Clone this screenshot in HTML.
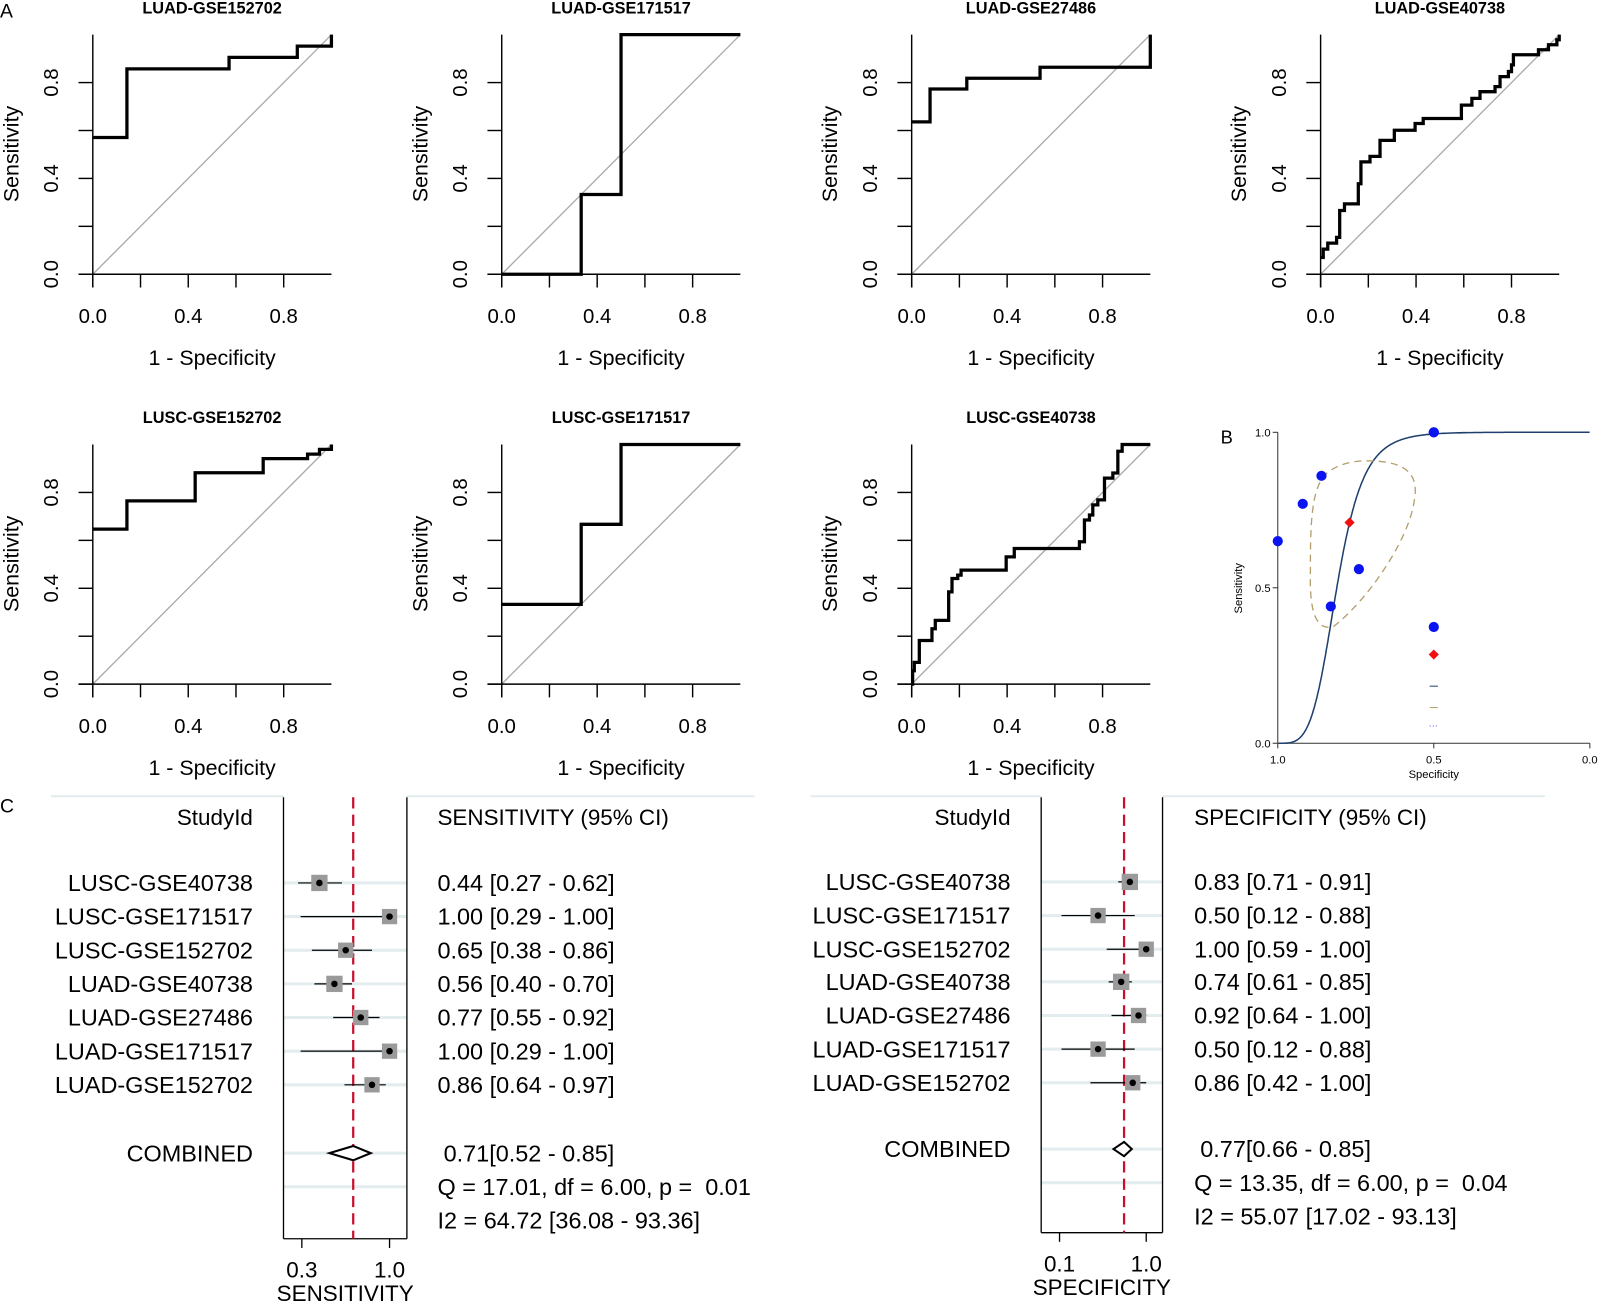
<!DOCTYPE html>
<html><head><meta charset="utf-8"><style>
html,body{margin:0;padding:0;background:#fff;}
svg{display:block;font-family:"Liberation Sans",Arial,sans-serif;}
text{white-space:pre;}
</style></head><body>
<svg id="fig" width="1599" height="1303" viewBox="0 0 1568 1278" preserveAspectRatio="none" xmlns="http://www.w3.org/2000/svg">
<rect width="1568" height="1278" fill="#fff"/>
<text x="0" y="17" font-size="19">A</text>
<text x="1197" y="435" font-size="18">B</text>
<text x="0" y="797" font-size="19">C</text>
</svg>
<script>
// ---------- ROC data (fpr = 1 - specificity, tpr = sensitivity) ----------
const rocTitles = ["LUAD-GSE152702","LUAD-GSE171517","LUAD-GSE27486","LUAD-GSE40738","LUSC-GSE152702","LUSC-GSE171517","LUSC-GSE40738"];
const luad152702Fpr = [0,0.143,0.571,0.857,1];
const luad152702Tpr = [0.571,0.857,0.905,0.952,1];
const luad171517Fpr = [0.333,0.5,1];
const luad171517Tpr = [0.333,1,1];
const luad27486Fpr = [0,0.077,0.231,0.538,1];
const luad27486Tpr = [0.636,0.773,0.818,0.864,1];
const luad40738Fpr = [0,0.011,0.03,0.067,0.08,0.08,0.10,0.158,0.158,0.169,0.207,0.249,0.249,0.309,0.309,0.375,0.396,0.43,0.564,0.59,0.634,0.668,0.731,0.752,0.787,0.80,0.808,0.878,0.913,0.955,0.99,1];
const luad40738Tpr = [0.07,0.105,0.13,0.154,0.175,0.266,0.294,0.294,0.378,0.469,0.492,0.492,0.559,0.559,0.601,0.601,0.629,0.65,0.65,0.706,0.734,0.762,0.783,0.825,0.846,0.874,0.916,0.916,0.937,0.958,0.979,1];
const lusc152702Fpr = [0,0.143,0.429,0.714,0.9,0.95,1];
const lusc152702Tpr = [0.647,0.765,0.882,0.941,0.96,0.98,1];
const lusc171517Fpr = [0,0.333,0.5,1];
const lusc171517Tpr = [0.333,0.667,1,1];
const lusc40738Fpr = [0.004,0.011,0.032,0.085,0.099,0.155,0.169,0.193,0.207,0.396,0.43,0.69,0.703,0.724,0.724,0.745,0.759,0.78,0.808,0.843,0.864,0.882,1];
const lusc40738Tpr = [0.056,0.091,0.182,0.231,0.266,0.385,0.441,0.455,0.476,0.531,0.566,0.566,0.594,0.622,0.685,0.706,0.748,0.769,0.86,0.881,0.972,1.0,1.0];
const rocAxisTicks = [0,0.2,0.4,0.6,0.8];
const rocTickLabels = ["0.0","0.4","0.8"];

// ---------- SROC data ----------
const srocSens = [0.44,1.0,0.65,0.56,0.77,1.0,0.86];
const srocSpec = [0.83,0.5,1.0,0.74,0.92,0.5,0.86];
const summarySens = [0.71];
const summarySpec = [0.77];

// ---------- Forest data ----------
const studies = ["LUSC-GSE40738","LUSC-GSE171517","LUSC-GSE152702","LUAD-GSE40738","LUAD-GSE27486","LUAD-GSE171517","LUAD-GSE152702"];
const sensVal = [0.44,1.00,0.65,0.56,0.77,1.00,0.86];
const sensLo  = [0.27,0.29,0.38,0.40,0.55,0.29,0.64];
const sensHi  = [0.62,1.00,0.86,0.70,0.92,1.00,0.97];
const specVal = [0.83,0.50,1.00,0.74,0.92,0.50,0.86];
const specLo  = [0.71,0.12,0.59,0.61,0.64,0.12,0.42];
const specHi  = [0.91,0.88,1.00,0.85,1.00,0.88,1.00];
const sensBox = [16,15,15,16,15,15,15];
const specBox = [16,15,15,16,15,15,15];
const sensCombined = [0.71,0.52,0.85];
const specCombined = [0.77,0.66,0.85];
const sensStats = ["Q = 17.01, df = 6.00, p =  0.01","I2 = 64.72 [36.08 - 93.36]"];
const specStats = ["Q = 13.35, df = 6.00, p =  0.04","I2 = 55.07 [17.02 - 93.13]"];

const NS="http://www.w3.org/2000/svg";
const svg=document.getElementById('fig');
function el(tag,attrs,parent,txt){const e=document.createElementNS(NS,tag);for(const k in attrs)e.setAttribute(k,attrs[k]);if(txt!==undefined)e.textContent=txt;(parent||svg).appendChild(e);return e;}

// ---------- ROC panels ----------
const rocFprs=[luad152702Fpr,luad171517Fpr,luad27486Fpr,luad40738Fpr,lusc152702Fpr,lusc171517Fpr,lusc40738Fpr];
const rocTprs=[luad152702Tpr,luad171517Tpr,luad27486Tpr,luad40738Tpr,lusc152702Tpr,lusc171517Tpr,lusc40738Tpr];
const colX=[91,492,894,1295], rowY=[269,671], PW=234, PH=235;
rocTitles.forEach((title,i)=>{
  const x0=colX[i%4], y0=rowY[Math.floor(i/4)];
  const sx=v=>x0+v*PW, sy=v=>y0-v*PH;
  const g=el('g',{});
  
  
  const t=el('text',{x:x0+117,y:y0-256,'font-size':16,'font-weight':'bold','text-anchor':'middle'},g,title);
   
  el('line',{x1:sx(0),y1:sy(0),x2:sx(1),y2:sy(1),stroke:'#aaa','stroke-width':1.3},g);
  el('line',{x1:x0-14,y1:y0,x2:sx(1),y2:y0,stroke:'#000','stroke-width':1.4},g);
  el('line',{x1:x0,y1:y0+13,x2:x0,y2:sy(1),stroke:'#000','stroke-width':1.4},g);
  rocAxisTicks.forEach(v=>{
    el('line',{x1:sx(v),y1:y0,x2:sx(v),y2:y0+13,stroke:'#000','stroke-width':1.4},g);
    el('line',{x1:x0,y1:sy(v),x2:x0-14,y2:sy(v),stroke:'#000','stroke-width':1.4},g);
  });
  rocTickLabels.forEach(l=>{
    const v=parseFloat(l);
    const a=el('text',{x:sx(v),y:y0+48,'font-size':20,'text-anchor':'middle'},g,l);
     
    const b=el('text',{x:0,y:0,'font-size':20,'text-anchor':'middle',transform:`translate(${x0-34},${sy(v)}) rotate(-90)`},g,l);
     
  });
  const xl=el('text',{x:x0+117,y:y0+89,'font-size':21,'text-anchor':'middle'},g,'1 - Specificity');
   
  const yl=el('text',{x:0,y:0,'font-size':21,'text-anchor':'middle',transform:`translate(${x0-73},${y0-118}) rotate(-90)`},g,'Sensitivity');
   
  const fp=rocFprs[i], tp=rocTprs[i];
  let d, start;
  if(fp[0]===0){ d=`M${sx(0)},${sy(tp[0])}`; start=1; }
  else { d=`M${sx(0)},${sy(0)}`; start=0; }
  for(let k=start;k<fp.length;k++){ d+=` L${sx(fp[k])},${sy(k?tp[k-1]:0)} L${sx(fp[k])},${sy(tp[k])}`; }
  const p=el('path',{d:d,fill:'none',stroke:'#000','stroke-width':3.2,'stroke-linejoin':'miter'},g);
   
});

// ---------- SROC ----------
(function(){
  const X0=1253, X1=1559, Y0=729, Y1=424;
  const bx=spec=>X0+(1-spec)*(X1-X0), by=s=>Y0-s*(Y0-Y1);
  const g=el('g',{});
   
  el('line',{x1:X0,y1:Y1,x2:X0,y2:Y0,stroke:'#333','stroke-width':1},g);
  el('line',{x1:X0,y1:Y0,x2:X1,y2:Y0,stroke:'#333','stroke-width':1},g);
  [[0,'0.0'],[0.5,'0.5'],[1,'1.0']].forEach(([v,l])=>{
    el('line',{x1:X0,y1:by(v),x2:X0-5,y2:by(v),stroke:'#333'},g);
    el('line',{x1:bx(v),y1:Y0,x2:bx(v),y2:Y0+5,stroke:'#333'},g);
    el('text',{x:X0-7,y:by(v)+4,'font-size':11,'text-anchor':'end'},g,l);
    el('text',{x:bx(v),y:Y0+20,'font-size':11,'text-anchor':'middle'},g,l);
  });
  const xt=el('text',{x:1406,y:763,'font-size':11,'text-anchor':'middle'},g,'Specificity');
   
  const yt=el('text',{x:0,y:0,'font-size':11,'text-anchor':'middle',transform:'translate(1218,577) rotate(-90)'},g,'Sensitivity');
   
  const A=5.24, B=3.6;
  let d='';
  for(let k=1;k<=400;k++){const f=k/400*0.999+0.0005;const lf=Math.log(f/(1-f));const s=1/(1+Math.exp(-(A+B*lf)));d+=(k===1?'M':' L')+bx(1-f).toFixed(1)+','+by(s).toFixed(1);}
  const c=el('path',{d:d,fill:'none',stroke:'#1f3f6e','stroke-width':1.5},g);
   
  const e=el('path',{d:'M1340,452 C1375,452 1392,462 1387,490 C1382,530 1340,590 1307,615 C1290,618 1284,600 1285,560 C1285,520 1285,480 1300,465 C1310,456 1325,452 1340,452 Z',fill:'none',stroke:'#b39f6a','stroke-width':1.3,'stroke-dasharray':'7,5'},g);
   
  srocSens.forEach((s,i)=>{
    const p=el('circle',{cx:bx(srocSpec[i]),cy:by(s),r:5,fill:'#0a14f0'},g);
     
  });
  const sx=bx(summarySpec[0]), sy=by(summarySens[0]);
  const dm=el('path',{d:`M${sx},${sy-5} L${sx+5},${sy} L${sx},${sy+5} L${sx-5},${sy} Z`,fill:'#f01010'},g);
   
  el('circle',{cx:1406,cy:615,r:5,fill:'#0a14f0'},g);
  el('path',{d:'M1406,637 L1411,642 L1406,647 L1401,642 Z',fill:'#f01010'},g);
  el('line',{x1:1402,y1:673,x2:1410,y2:673,stroke:'#1f3f6e'},g);
  el('line',{x1:1402,y1:694,x2:1410,y2:694,stroke:'#b39f6a'},g);
  el('line',{x1:1402,y1:712,x2:1410,y2:712,stroke:'#6a6aff','stroke-dasharray':'1,2'},g);
})();

// ---------- Forest plots ----------
function forest(cfg){
  const g=el('g',{});
   
  const sx=v=>cfg.t0x+(v-cfg.t0)/(cfg.t1-cfg.t0)*(cfg.t1x-cfg.t0x);
  el('line',{x1:cfg.lineL,y1:781,x2:cfg.fl,y2:781,stroke:'#e3ecee','stroke-width':2},g);
  el('line',{x1:cfg.fr,y1:781,x2:cfg.lineR,y2:781,stroke:'#e3ecee','stroke-width':2},g);
  const rows=cfg.rows.concat([cfg.comb,cfg.stat1]);
  rows.forEach(y=>el('line',{x1:cfg.fl,y1:y,x2:cfg.fr,y2:y,stroke:'#e3ecee','stroke-width':3},g));
  el('line',{x1:cfg.fl,y1:782,x2:cfg.fl,y2:cfg.bot,stroke:'#000','stroke-width':1.3},g);
  el('line',{x1:cfg.fr,y1:782,x2:cfg.fr,y2:cfg.bot,stroke:'#000','stroke-width':1.3},g);
  el('line',{x1:cfg.fl,y1:cfg.bot,x2:cfg.fr,y2:cfg.bot,stroke:'#000','stroke-width':1.3},g);
  [[cfg.t0,cfg.l0],[cfg.t1,cfg.l1]].forEach(([v,l])=>{
    el('line',{x1:sx(v),y1:cfg.bot,x2:sx(v),y2:cfg.bot+9,stroke:'#000','stroke-width':1.3},g);
    el('text',{x:sx(v),y:cfg.bot+38,'font-size':22,'text-anchor':'middle'},g,l);
  });
  const at=el('text',{x:(cfg.fl+cfg.fr)/2,y:cfg.bot+61,'font-size':22,'text-anchor':'middle'},g,cfg.axis);
   
  el('text',{x:cfg.nameX,y:809,'font-size':22,'text-anchor':'end'},g,'StudyId');
  el('text',{x:cfg.valX,y:809,'font-size':22},g,cfg.header);
  const ref=el('line',{x1:sx(cfg.comb3[0]),y1:782,x2:sx(cfg.comb3[0]),y2:cfg.bot,stroke:'#c8102e','stroke-width':2.2,'stroke-dasharray':'11,6'},g);
   
  studies.forEach((s,i)=>{
    const y=cfg.rows[i];
    el('text',{x:cfg.nameX,y:y+8,'font-size':23,'text-anchor':'end'},g,s);
    el('line',{x1:sx(cfg.lo[i]),y1:y,x2:sx(cfg.hi[i]),y2:y,stroke:'#000','stroke-width':1.2},g);
    const b=cfg.box[i];
    el('rect',{x:sx(cfg.val[i])-b/2,y:y-b/2,width:b,height:b,fill:'#9a9a9a'},g);
    el('circle',{cx:sx(cfg.val[i]),cy:y,r:3.2,fill:'#000'},g);
    el('text',{x:cfg.valX,y:y+8,'font-size':23},g,`${cfg.val[i].toFixed(2)} [${cfg.lo[i].toFixed(2)} - ${cfg.hi[i].toFixed(2)}]`);
  });
  const [c,lo,hi]=cfg.comb3, y=cfg.comb;
  el('path',{d:`M${sx(lo)},${y} L${sx(c)},${y-7} L${sx(hi)},${y} L${sx(c)},${y+7} Z`,fill:'#fff',stroke:'#000','stroke-width':2},g);
  el('text',{x:cfg.nameX,y:y+8,'font-size':23,'text-anchor':'end'},g,'COMBINED');
  el('text',{x:cfg.valX+6,y:y+8,'font-size':23},g,`${c.toFixed(2)}[${lo.toFixed(2)} - ${hi.toFixed(2)}]`);
  el('text',{x:cfg.valX,y:cfg.stat1+8,'font-size':23},g,cfg.stats[0]);
  el('text',{x:cfg.valX,y:cfg.stat1+41,'font-size':23},g,cfg.stats[1]);
}
forest({name:'sensitivity-forest-plot',fl:278,fr:399,bot:1215,lineL:50,lineR:740,t0:0.3,t1:1.0,t0x:296,t1x:382,l0:'0.3',l1:'1.0',axis:'SENSITIVITY',
  nameX:248,valX:429,header:'SENSITIVITY (95% CI)',rows:[866,899,932,965,998,1031,1064],comb:1131,stat1:1164,
  val:sensVal,lo:sensLo,hi:sensHi,box:sensBox,comb3:sensCombined,stats:sensStats});
forest({name:'specificity-forest-plot',fl:1021,fr:1140,bot:1209,lineL:795,lineR:1515,t0:0.1,t1:1.0,t0x:1039,t1x:1124,l0:'0.1',l1:'1.0',axis:'SPECIFICITY',
  nameX:991,valX:1171,header:'SPECIFICITY (95% CI)',rows:[865,898,931,963,996,1029,1062],comb:1127,stat1:1160,
  val:specVal,lo:specLo,hi:specHi,box:specBox,comb3:specCombined,stats:specStats});
</script>
</body></html>
